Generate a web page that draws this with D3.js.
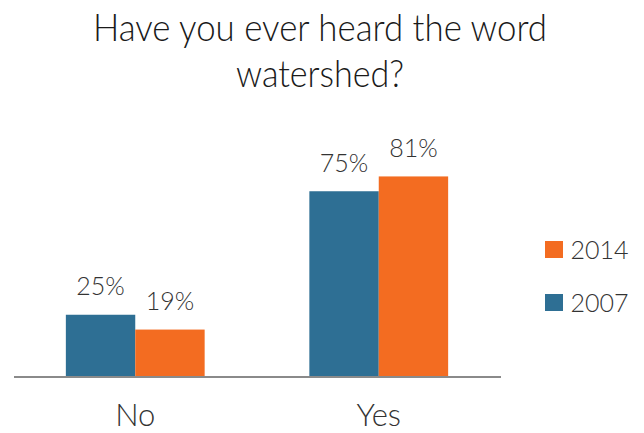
<!DOCTYPE html>
<html>
<head>
<meta charset="utf-8">
<script src="https://cdn.jsdelivr.net/npm/d3@7/dist/d3.min.js"></script>
<style>
  html, body { margin: 0; padding: 0; background: #fff; }
  svg { display: block; font-family: Lato, "Open Sans", sans-serif; }
</style>
</head>
<body>
<svg id="chart" width="644" height="433"></svg>
<script>
// Survey answers, share of respondents (%)
const categories = ["No", "Yes"];
const years = ["2007", "2014"];
const values2007 = [25, 75];
const values2014 = [19, 81];
const legendOrder = ["2014", "2007"];
const titleLines = ["Have you ever heard the word", "watershed?"];

const colors = { "2007": "#2E6F94", "2014": "#F36C21" };
const seriesValues = { "2007": values2007, "2014": values2014 };

const svg = d3.select("#chart");
const baseY = 376.5;

const x = d3.scaleBand()
  .domain(categories)
  .range([13.5, 500.5])
  .paddingInner(0.43)
  .paddingOuter(0.215);

const xInner = d3.scaleBand()
  .domain(years)
  .range([0, x.bandwidth()]);

const y = d3.scaleLinear()
  .domain([0, 100])
  .range([baseY, baseY - 247]);

// Title
const title = svg.append("g");
titleLines.forEach((line, i) => {
  title.append("text")
    .attr("x", 320)
    .attr("y", 41 + i * 45.5)
    .attr("text-anchor", "middle")
    .attr("font-size", 38)
    .attr("font-weight", 300)
    .attr("fill", "#1a1a1a")
    .attr("textLength", i === 0 ? 454 : 168)
    .attr("lengthAdjust", "spacingAndGlyphs")
    .text(line);
});

// Bars and value labels
const groups = svg.append("g")
  .selectAll("g")
  .data(categories)
  .join("g")
  .attr("transform", d => `translate(${x(d)},0)`);

groups.selectAll("rect")
  .data((d, i) => years.map(yr => ({ yr, v: seriesValues[yr][i] })))
  .join("rect")
  .attr("x", d => xInner(d.yr))
  .attr("y", d => y(d.v))
  .attr("width", xInner.bandwidth())
  .attr("height", d => baseY - y(d.v))
  .attr("fill", d => colors[d.yr]);

groups.selectAll("text")
  .data((d, i) => years.map(yr => ({ yr, v: seriesValues[yr][i] })))
  .join("text")
  .attr("x", d => xInner(d.yr) + xInner.bandwidth() / 2)
  .attr("y", d => y(d.v) - 19.5)
  .attr("text-anchor", "middle")
  .attr("font-size", 25)
  .attr("font-weight", 300)
  .attr("fill", "#333")
  .text(d => d.v + "%");

// Category axis
const axis = svg.append("g")
  .attr("transform", `translate(0,${baseY})`)
  .call(d3.axisBottom(x).tickSize(0).tickPadding(49.5));
axis.select(".domain")
  .attr("stroke", "#8a8a8a")
  .attr("stroke-width", 2);
axis.selectAll(".tick text")
  .attr("font-family", "Lato, 'Open Sans', sans-serif")
  .attr("font-size", 31)
  .attr("font-weight", 300)
  .attr("fill", "#333")
  .attr("dy", 0);

// Legend
const legend = svg.append("g")
  .selectAll("g")
  .data(legendOrder)
  .join("g")
  .attr("transform", (d, i) => `translate(545,${241 + i * 53})`);
legend.append("rect")
  .attr("width", 18)
  .attr("height", 17)
  .attr("fill", d => colors[d]);
legend.append("text")
  .attr("x", 25.5)
  .attr("y", 18)
  .attr("font-size", 25)
  .attr("font-weight", 300)
  .attr("fill", "#333")
  .text(d => d);
</script>
</body>
</html>
